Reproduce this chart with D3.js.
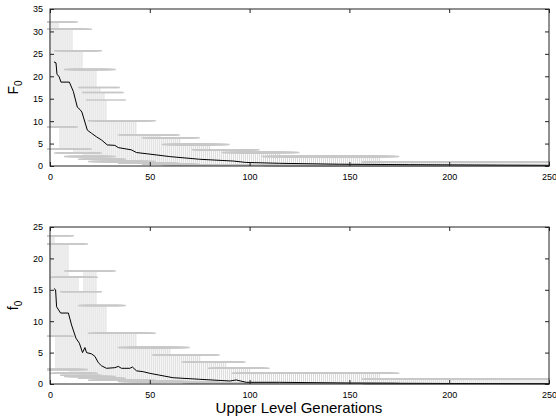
<!DOCTYPE html>
<html><head><meta charset="utf-8">
<script src="https://cdn.jsdelivr.net/npm/d3@7"></script>
<style>body{margin:0;background:#fff}text{font-family:"Liberation Sans",Arial,sans-serif}</style>
</head><body><svg id="c" width="556" height="419"></svg>
<script>
// ---- data ----
const xTicks = [0, 50, 100, 150, 200, 250];
const topYTicks = [0, 5, 10, 15, 20, 25, 30, 35];
const botYTicks = [0, 5, 10, 15, 20, 25];

// mean curves (generation, value)
const topMeanGen = [2, 3, 3.5, 4.5, 5.5, 9.7, 11.7, 13.7, 15, 16, 18.7, 20.8, 23.3, 25.8, 28.7, 32.5, 34.2, 40.8, 43.3, 49, 60, 75, 92, 98, 115, 145, 180, 225, 250];
const topMeanVal = [23.2, 23.0, 20.4, 20.0, 18.7, 18.7, 16.6, 13.1, 12.6, 12.0, 8.0, 7.3, 6.5, 5.8, 4.7, 4.6, 4.1, 3.6, 3.0, 2.7, 2.1, 1.5, 1.1, 0.8, 0.6, 0.4, 0.3, 0.2, 0.15];
const botMeanGen = [2, 2.8, 3.3, 5.3, 9.2, 10.8, 13, 14.7, 16.3, 17.5, 18.3, 20.8, 22.5, 24.2, 25.8, 28.3, 32.5, 34.2, 35.8, 40, 41.3, 43.3, 46.7, 50, 55, 61.7, 75, 90, 93.3, 98.3, 115, 150, 200, 250];
const botMeanVal = [15.2, 15.0, 12.3, 11.3, 11.3, 9.4, 7.3, 6.5, 5.0, 5.8, 5.0, 4.8, 4.4, 3.4, 2.9, 2.5, 2.6, 2.8, 2.5, 2.5, 2.7, 2.1, 1.96, 1.7, 1.4, 1.0, 0.75, 0.48, 0.64, 0.27, 0.27, 0.15, 0.08, 0.05];

// error-bar ranges: generations start..end share the same bounds
const topBarStart = [0, 5, 12, 17, 24, 26, 28, 29, 44, 56, 66, 81, 96, 116, 166];
const topBarEnd   = [4, 11, 16, 23, 25, 27, 28, 43, 55, 65, 80, 95, 115, 165, 250];
const topBarHi    = [32.1, 30.5, 25.7, 21.5, 17.5, 16.4, 14.7, 10.1, 6.9, 6.3, 4.8, 3.6, 3.0, 2.1, 0.9];
const topBarLo    = [8.7, 3.8, 2.9, 2.1, 1.5, 1.5, 1.5, 1.0, 0.6, 0.4, 0.3, 0.2, 0.15, 0.1, 0.05];

const botBarStart = [0, 3, 10, 15, 17, 24, 29, 44, 61, 76, 89, 101, 166];
const botBarEnd   = [2, 9, 14, 16, 23, 28, 43, 60, 75, 88, 100, 165, 250];
const botBarHi    = [23.6, 22.3, 17.0, 14.7, 18.0, 12.5, 8.1, 5.8, 4.6, 3.5, 2.5, 1.7, 0.8];
const botBarLo    = [7.6, 2.3, 1.7, 1.4, 1.2, 0.9, 0.6, 0.4, 0.3, 0.2, 0.15, 0.1, 0.05];

// ---- drawing ----
const svg = d3.select("#c");
const capHalf = 10;

function panel(cfg) {
  const x = d3.scaleLinear().domain([0, 250]).range([50, 549]);
  const y = d3.scaleLinear().domain([0, cfg.ymax]).range([cfg.bottom, cfg.top]);
  const g = svg.append("g");
  const clipId = "clip" + cfg.id;
  svg.append("clipPath").attr("id", clipId).append("rect")
    .attr("x", 47).attr("y", cfg.top - 2).attr("width", 503).attr("height", cfg.bottom - cfg.top + 4);
  const bars = [];
  cfg.start.forEach((s, i) => {
    for (let gen = s; gen <= cfg.end[i]; gen++) bars.push({gen, hi: cfg.hi[i], lo: cfg.lo[i]});
  });
  const eb = g.append("g").attr("clip-path", `url(#${clipId})`);
  eb.selectAll("line.v").data(bars).join("line").attr("class", "v")
    .attr("x1", d => x(d.gen)).attr("x2", d => x(d.gen))
    .attr("y1", d => y(d.lo)).attr("y2", d => y(d.hi))
    .attr("stroke", "#d9d9d9").attr("stroke-width", 1);
  ["hi", "lo"].forEach(k => {
    eb.selectAll("line.c" + k).data(bars).join("line").attr("class", "c" + k)
      .attr("x1", d => x(d.gen - capHalf)).attr("x2", d => x(d.gen + capHalf))
      .attr("y1", d => y(d[k])).attr("y2", d => y(d[k]))
      .attr("stroke", "#c8c8c8").attr("stroke-width", 1.5);
  });
  const line = d3.line().x(d => x(d[0])).y(d => y(d[1]));
  g.append("path").datum(cfg.mg.map((v, i) => [v, cfg.mv[i]]))
    .attr("d", line).attr("fill", "none").attr("stroke", "#000").attr("stroke-width", 1);

  // box
  g.append("rect").attr("x", 50).attr("y", cfg.top).attr("width", 499).attr("height", cfg.bottom - cfg.top)
    .attr("fill", "none").attr("stroke", "#222").attr("stroke-width", 1);
  // axes with inward ticks
  const tl = 4;
  g.append("g").attr("transform", `translate(0,${cfg.bottom})`)
    .call(d3.axisBottom(x).tickValues(xTicks).tickSize(-tl).tickPadding(8))
    .call(a => { a.select(".domain").remove(); a.selectAll("text").attr("font-size", 9).attr("fill", "#000"); a.selectAll("line").attr("stroke", "#222"); });
  g.append("g").attr("transform", `translate(0,${cfg.top})`)
    .call(d3.axisTop(x).tickValues(xTicks).tickSize(-tl).tickFormat(""))
    .call(a => { a.select(".domain").remove(); a.selectAll("line").attr("stroke", "#222"); });
  g.append("g").attr("transform", `translate(50,0)`)
    .call(d3.axisLeft(y).tickValues(cfg.yt).tickSize(-tl).tickPadding(7))
    .call(a => { a.select(".domain").remove(); a.selectAll("text").attr("font-size", 9).attr("fill", "#000"); a.selectAll("line").attr("stroke", "#222"); });
  g.append("g").attr("transform", `translate(549,0)`)
    .call(d3.axisRight(y).tickValues(cfg.yt).tickSize(-tl).tickFormat(""))
    .call(a => { a.select(".domain").remove(); a.selectAll("line").attr("stroke", "#222"); });

  // y label
  const cy = (cfg.top + cfg.bottom) / 2;
  const t = g.append("text").attr("transform", `translate(18,${cy}) rotate(-90)`)
    .attr("text-anchor", "middle").attr("font-size", 14);
  t.append("tspan").text(cfg.label);
  t.append("tspan").text("0").attr("font-size", 10).attr("dy", 4);
}

panel({id: "t", top: 9, bottom: 166, ymax: 35, yt: topYTicks, start: topBarStart, end: topBarEnd, hi: topBarHi, lo: topBarLo, mg: topMeanGen, mv: topMeanVal, label: "F"});
panel({id: "b", top: 227, bottom: 384, ymax: 25, yt: botYTicks, start: botBarStart, end: botBarEnd, hi: botBarHi, lo: botBarLo, mg: botMeanGen, mv: botMeanVal, label: "f"});

svg.append("text").attr("x", 299).attr("y", 413).attr("text-anchor", "middle")
  .attr("font-size", 15).text("Upper Level Generations");
</script></body></html>
